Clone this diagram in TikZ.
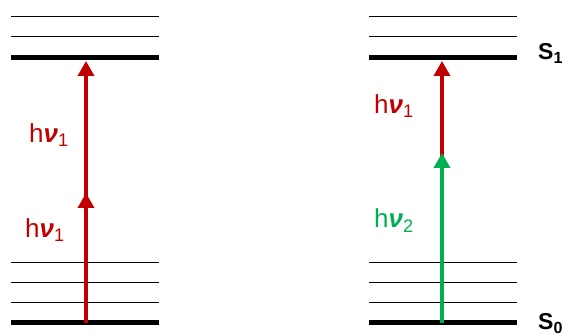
\documentclass[tikz,border=0pt]{standalone}
\usepackage{fontspec}
\setmainfont{Liberation Sans}
\usetikzlibrary{arrows.meta}
\definecolor{photonred}{HTML}{C00000}
\definecolor{photongreen}{HTML}{00B050}
\newcommand{\hnu}[1]{h\textbf{\textit{ν}}\textsubscript{#1}}

\begin{document}
\begin{tikzpicture}[x=1pt,y=-1pt,
            level/.style={line width=5pt},
            sublevel/.style={line width=1pt},
            photon/.style={line width=3.4pt,-{Triangle[width=16pt,length=15pt]}},
            label node/.style={inner sep=0pt,anchor=base west,font=\fontsize{26}{30}\selectfont},
            state node/.style={inner sep=0pt,anchor=base west,font=\fontsize{23}{26}\selectfont\bfseries},
            ]
            \def\W{148}
            \useasboundingbox (0,0) rectangle (568,336);
            
            % energy levels
            \foreach \x in {11,369} {
                \foreach \y in {17,37,263,283,303}
                    \draw[sublevel] (\x,\y) -- ++(\W,0);
                \draw[level] (\x,58) -- ++(\W,0);
                \draw[level] (\x,323) -- ++(\W,0);
            }
            
            \coordinate (g1) at (86,323);
            \coordinate (m1) at (86,193);
            \coordinate (e1) at (86,61);
            \coordinate (g2) at (442,323);
            \coordinate (m2) at (442,153);
            \coordinate (e2) at (442,61);
            
            \node[label node, text=photonred] (l1) at (29,143) {\hnu{1}};
            \node[label node, text=photonred] (l2) at (25,238) {\hnu{1}};
            \node[label node, text=photonred] (l3) at (374,114) {\hnu{1}};
            \node[label node, text=photongreen] (l4) at (374,228) {\hnu{2}};
            \node[state node] (s1) at (538,60) {S\textsubscript{1}};
            \node[state node] (s0) at (538,330) {S\textsubscript{0}};
            
            \draw[photon, photonred, shorten <=-6pt] (m1) -- (e1);
            \draw[photon, photonred] (g1) -- (m1);
            \draw[photon, photonred, shorten <=-6pt] (m2) -- (e2);
            \draw[photon, photongreen] (g2) -- (m2);
        \end{tikzpicture}
\end{document}
